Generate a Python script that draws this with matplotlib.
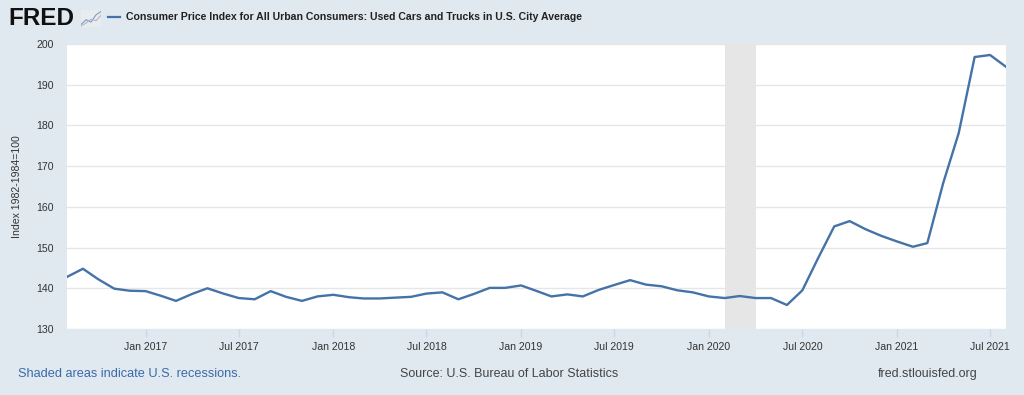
import matplotlib
matplotlib.use("Agg")
import matplotlib.pyplot as plt
import matplotlib.dates as mdates
import pandas as pd

plt.rcParams['font.family'] = ['Liberation Sans', 'DejaVu Sans']

# Data: monthly CPI Used Cars and Trucks, Aug 2016 - Aug 2021
start_month = "2016-08-01"
values = [
    142.8, 144.8, 142.2, 139.9, 139.4,                     # Aug-Dec 2016
    139.3, 138.1, 136.9, 138.6, 140.0, 138.7,              # Jan-Jun 2017
    137.6, 137.3, 139.3, 137.9, 136.9, 138.0,              # Jul-Dec 2017
    138.4, 137.8, 137.5, 137.5, 137.7, 137.9,              # Jan-Jun 2018
    138.7, 139.0, 137.3, 138.6, 140.1, 140.1,              # Jul-Dec 2018
    140.7, 139.3, 138.0, 138.5, 138.0, 139.6,              # Jan-Jun 2019
    140.8, 142.0, 140.9, 140.5, 139.5, 139.0,              # Jul-Dec 2019
    138.0, 137.6, 138.1, 137.6, 137.6, 135.9,              # Jan-Jun 2020
    139.5, 147.5, 155.2, 156.5, 154.5, 152.9,              # Jul-Dec 2020
    151.5, 150.2, 151.1, 165.9, 178.1, 196.8,              # Jan-Jun 2021
    197.3, 194.4,                                          # Jul-Aug 2021
]
recession_start = "2020-02-01"
recession_end = "2020-04-01"
yticks = [130, 140, 150, 160, 170, 180, 190, 200]

title = "Consumer Price Index for All Urban Consumers: Used Cars and Trucks in U.S. City Average"
ylabel = "Index 1982-1984=100"

dates = pd.date_range(start_month, periods=len(values), freq="MS")

BG = "#e1e9f0"
LINE = "#4572a7"
TXT = "#333333"

fig = plt.figure(figsize=(10.24, 3.95), dpi=100, facecolor=BG)
ax = fig.add_axes([67/1024, 1-329/395, (1006-67)/1024, (329-44)/395])
ax.set_facecolor("white")

ax.axvspan(pd.Timestamp(recession_start), pd.Timestamp(recession_end),
           color="#e6e6e6", zorder=1, lw=0)
ax.plot(dates, values, color=LINE, lw=1.7, zorder=3, solid_joinstyle="round")

ax.set_xlim(dates[0], dates[-1])
ax.set_ylim(130, 200)
ax.set_yticks(yticks)
ax.yaxis.grid(True, color="#e6e6e6", lw=1.0, zorder=0)
ax.set_axisbelow(True)

ax.xaxis.set_major_locator(mdates.MonthLocator(bymonth=[1, 7]))
ax.xaxis.set_major_formatter(mdates.DateFormatter("%b %Y"))

for s in ax.spines.values():
    s.set_visible(False)
ax.tick_params(axis="y", length=0, labelsize=7.6, labelcolor=TXT, pad=9.5)
ax.tick_params(axis="x", length=6, width=1, color="#ccd6eb", labelsize=7.6,
               labelcolor=TXT, pad=3)

ax.set_ylabel(ylabel, fontsize=7.6, color=TXT, labelpad=10)

# Header
fig.text(8/1024, 1-18.5/395, "FRED", fontsize=17.5, fontweight="bold", color="#111111",
         va="center", ha="left")
icon = fig.add_axes([81/1024, 1-27/395, 20/1024, 17/395])
icon.set_facecolor("#e8ecf0")
icon.plot([0, 1, 2, 3, 4], [0.5, 1.5, 1.0, 2.5, 3.2], color="#7f9cc4", lw=0.8)
icon.plot([0, 1, 2, 3, 4], [0.2, 0.8, 1.6, 1.3, 2.4], color="#b0b8c4", lw=0.8)
icon.set_xlim(0, 4)
icon.set_ylim(0, 3.5)
icon.set_xticks([])
icon.set_yticks([])
for s in icon.spines.values():
    s.set_visible(False)

fig.lines.append(plt.Line2D([108/1024, 120/1024], [1-17/395, 1-17/395],
                            transform=fig.transFigure, color=LINE, lw=1.6))
fig.text(126/1024, 1-17/395, title, fontsize=7.6, color="#222222",
         va="center", ha="left", fontweight="bold")

# Footer
fig.text(18/1024, 1-374/395, "Shaded areas indicate U.S. recessions.", fontsize=9.2,
         color="#3a6aa8", va="center", ha="left")
fig.text(400/1024, 1-374/395, "Source: U.S. Bureau of Labor Statistics", fontsize=9,
         color="#444444", va="center", ha="left")
fig.text(978/1024, 1-374/395, "fred.stlouisfed.org", fontsize=9,
         color="#444444", va="center", ha="right")

fig.savefig("out.png", dpi=100, facecolor=BG)
